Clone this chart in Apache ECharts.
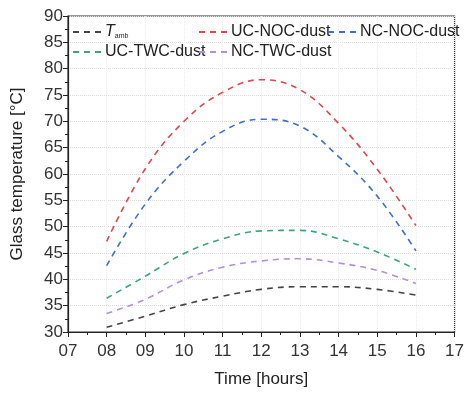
<!DOCTYPE html>
<html><head><meta charset="utf-8">
<script src="https://cdn.jsdelivr.net/npm/echarts@6/dist/echarts.min.js"></script>
<style>html,body{margin:0;padding:0;background:#fff}#c{width:467px;height:393px}</style>
</head><body><div id="c"></div>
<script>
const hours = [8, 9, 10, 11, 12, 13, 14, 15, 16];
const tamb = [30.9, 33.0, 35.2, 36.8, 38.1, 38.6, 38.6, 38.1, 37.0];
const ucNoc = [47.2, 61.0, 70.0, 75.5, 77.9, 76.0, 69.6, 60.9, 50.2];
const ncNoc = [42.6, 54.3, 62.4, 68.1, 70.4, 69.1, 63.3, 55.8, 45.4];
const ucTwc = [36.4, 40.6, 44.9, 47.7, 49.2, 49.3, 47.7, 45.2, 41.9];
const ncTwc = [33.5, 36.2, 39.9, 42.3, 43.5, 43.9, 43.1, 41.7, 39.2];
const seriesNames = ['Tamb', 'UC-NOC-dust', 'NC-NOC-dust', 'UC-TWC-dust', 'NC-TWC-dust'];
const seriesColors = ['#444444', '#e0474c', '#3d72c4', '#3aa579', '#b58fd3'];
const seriesData = [tamb, ucNoc, ncNoc, ucTwc, ncTwc];

const chart = echarts.init(document.getElementById('c'));
const font = 'Liberation Sans, Arial, sans-serif';
const legendPos = [
  {left: 72, top: 24}, {left: 198, top: 24}, {left: 327, top: 24},
  {left: 72, top: 44}, {left: 198, top: 44}
];
const legends = seriesNames.map((n, i) => ({
  data: [n], left: legendPos[i].left, top: legendPos[i].top,
  itemWidth: 30, itemHeight: 10, itemGap: 2, padding: 0,
  itemStyle: {color: 'transparent', borderWidth: 0},
  textStyle: {fontFamily: font, fontSize: 16, color: '#222', padding: [0, 0, 0, -3],
    rich: {i: {fontStyle: 'italic', fontSize: 16, fontFamily: font, color: '#222'},
           s: {fontSize: 7, fontFamily: font, color: '#222', verticalAlign: 'bottom', padding: [9, 0, 0, 0]}}},
  formatter: name => name === 'Tamb' ? '{i|T}{s|amb}' : name
}));
chart.setOption({
  animation: false,
  grid: {left: 68, right: 6, top: 16, bottom: 59, show: true, borderColor: '#333', borderWidth: 1.2},
  legend: legends,
  xAxis: {
    type: 'value', min: 7, max: 17, interval: 1,
    name: 'Time [hours]', nameLocation: 'middle', nameGap: 39,
    nameTextStyle: {fontFamily: font, fontSize: 17, color: '#222'},
    axisLine: {lineStyle: {color: '#222', width: 1.2}},
    axisTick: {length: 5, lineStyle: {color: '#222'}},
    minorTick: {show: true, splitNumber: 2, length: 3, lineStyle: {color: '#222'}},
    axisLabel: {fontFamily: font, fontSize: 17, color: '#333', margin: 11,
      formatter: v => (v < 10 ? '0' : '') + v},
    splitLine: {show: true, lineStyle: {color: '#ececec', type: 'dotted'}}
  },
  yAxis: {
    type: 'value', min: 30, max: 90, interval: 5,
    name: 'Glass temperature [°C]', nameLocation: 'middle', nameGap: 42,
    nameTextStyle: {fontFamily: font, fontSize: 17, color: '#222'},
    axisLine: {show: true, lineStyle: {color: '#222', width: 1.2}},
    axisTick: {show: true, length: 5, lineStyle: {color: '#222'}},
    minorTick: {show: true, splitNumber: 2, length: 3, lineStyle: {color: '#222'}},
    axisLabel: {fontFamily: font, fontSize: 17, color: '#333', margin: 5},
    splitLine: {show: true, lineStyle: {color: '#dcdcdc', type: 'dotted'}}
  },
  series: seriesNames.map((n, i) => ({
    name: n, type: 'line', smooth: 0.4, symbol: 'none',
    data: hours.map((h, j) => [h, seriesData[i][j]]),
    lineStyle: {color: seriesColors[i], width: 1.6, type: [6, 5]},
    itemStyle: {color: seriesColors[i]}
  }))
});
</script></body></html>
